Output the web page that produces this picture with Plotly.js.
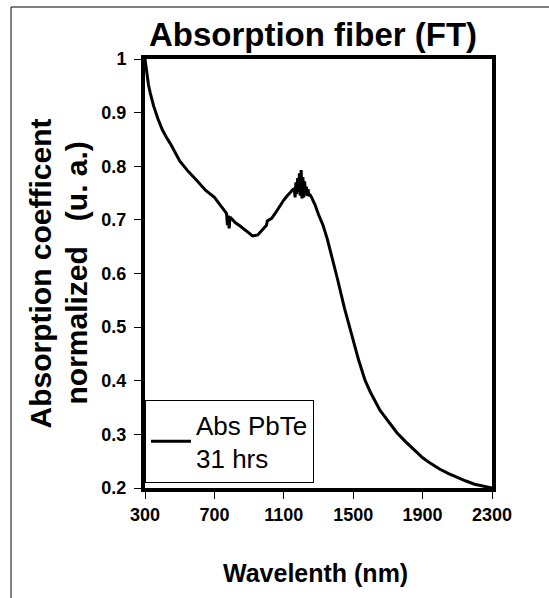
<!DOCTYPE html>
<html>
<head>
<meta charset="utf-8">
<script src="https://cdn.plot.ly/plotly-3.0.1.min.js"></script>
<style>
html,body{margin:0;padding:0;background:#fff;}
#chart{width:549px;height:598px;}
</style>
</head>
<body>
<div id="chart"></div>
<script>
const wavelength = [300, 305, 310, 320, 330, 340, 350, 375, 400, 425, 450, 500, 550, 600, 640, 650, 700, 750, 760, 770, 775, 780, 785, 790, 800, 820, 850, 880, 900, 920, 950, 980, 1000, 1005, 1030, 1050, 1080, 1100, 1120, 1130, 1140, 1150, 1160, 1165, 1170, 1175, 1180, 1185, 1190, 1195, 1200, 1205, 1210, 1215, 1220, 1225, 1230, 1235, 1240, 1245, 1250, 1260, 1270, 1280, 1300, 1326, 1350, 1380, 1407, 1450, 1500, 1530, 1568, 1600, 1654, 1700, 1752, 1800, 1850, 1902, 1950, 2000, 2050, 2098, 2150, 2200, 2250, 2300];
const absorption = [1.0, 0.985, 0.97, 0.952, 0.937, 0.924, 0.912, 0.888, 0.868, 0.853, 0.840, 0.810, 0.790, 0.773, 0.760, 0.755, 0.742, 0.720, 0.716, 0.712, 0.690, 0.708, 0.684, 0.705, 0.702, 0.695, 0.688, 0.680, 0.675, 0.670, 0.672, 0.683, 0.690, 0.698, 0.703, 0.712, 0.728, 0.737, 0.745, 0.748, 0.752, 0.756, 0.758, 0.742, 0.770, 0.748, 0.778, 0.752, 0.787, 0.745, 0.793, 0.740, 0.780, 0.742, 0.772, 0.748, 0.762, 0.745, 0.757, 0.744, 0.748, 0.742, 0.735, 0.728, 0.710, 0.690, 0.665, 0.628, 0.593, 0.535, 0.475, 0.440, 0.401, 0.378, 0.345, 0.325, 0.303, 0.287, 0.272, 0.256, 0.245, 0.235, 0.227, 0.220, 0.213, 0.207, 0.203, 0.200];
const xTicks = [300, 700, 1100, 1500, 1900, 2300];
const yTicks = [0.2, 0.3, 0.4, 0.5, 0.6, 0.7, 0.8, 0.9, 1];
const yTickLabels = ['0.2', '0.3', '0.4', '0.5', '0.6', '0.7', '0.8', '0.9', '1'];

const FONT = 'Liberation Sans, Arial, sans-serif';
const W = 549, H = 598, L = 145, R = 492, T = 59, B = 488;
const pw = R - L, ph = B - T;

const trace = {
  x: wavelength, y: absorption, type: 'scatter', mode: 'lines',
  name: 'Abs PbTe<br>31 hrs',
  line: {color: '#000', width: 3}
};

const tickfont = {size: 18, color: '#000', family: FONT, weight: 'bold'};

const layout = {
  width: W, height: H,
  margin: {l: L, r: W - R, t: T, b: H - B},
  paper_bgcolor: '#fff', plot_bgcolor: '#fff',
  font: {family: FONT, color: '#000'},
  title: {text: '<b>Absorption fiber (FT)</b>', font: {size: 33, color: '#000', family: FONT},
          x: 313/W, xanchor: 'center', xref: 'container',
          y: 1 - 34/H, yanchor: 'middle', yref: 'container'},
  xaxis: {
    range: [300, 2300], tickvals: xTicks, ticktext: xTicks.map(String),
    showgrid: false, zeroline: false,
    showline: true, linecolor: '#000', linewidth: 4, mirror: true,
    ticks: 'outside', ticklen: 7, tickwidth: 1, tickcolor: '#000',
    tickfont: tickfont
  },
  yaxis: {
    range: [0.2, 1], tickvals: yTicks, ticktext: yTickLabels,
    showgrid: false, zeroline: false,
    showline: true, linecolor: '#000', linewidth: 4, mirror: true,
    ticks: 'outside', ticklen: 7, tickwidth: 1, tickcolor: '#000',
    ticklabelstandoff: 4,
    tickfont: tickfont
  },
  showlegend: true,
  legend: {x: 0, xanchor: 'left', y: 5/ph, yanchor: 'bottom',
           bgcolor: '#fff', bordercolor: '#000', borderwidth: 1,
           itemwidth: 40,
           font: {size: 26, color: '#000', family: FONT}},
  annotations: [
    {text: '<b>Absorption coefficent</b>', xref: 'paper', yref: 'paper',
     x: (40 - L)/pw, y: 0.5, xanchor: 'center', yanchor: 'middle', textangle: -90,
     showarrow: false, font: {size: 30, color: '#000', family: FONT}},
    {text: '<b>normalized   (u. a.)</b>', xref: 'paper', yref: 'paper',
     x: (76 - L)/pw, y: 0.5, xanchor: 'center', yanchor: 'middle', textangle: -90,
     showarrow: false, font: {size: 30, color: '#000', family: FONT}},
    {text: '<b>Wavelenth (nm)</b>', xref: 'paper', yref: 'paper',
     x: (315 - L)/pw, y: (B - 573)/ph, xanchor: 'center', yanchor: 'middle',
     showarrow: false, font: {size: 25, color: '#000', family: FONT}}
  ],
  shapes: [{type: 'rect', xref: 'paper', yref: 'paper',
            x0: (11 - L)/pw, x1: 2, y0: -2, y1: (B - 7)/ph,
            line: {color: '#000', width: 1}, layer: 'below'}]
};

Plotly.newPlot('chart', [trace], layout, {displayModeBar: false});
</script>
</body>
</html>
